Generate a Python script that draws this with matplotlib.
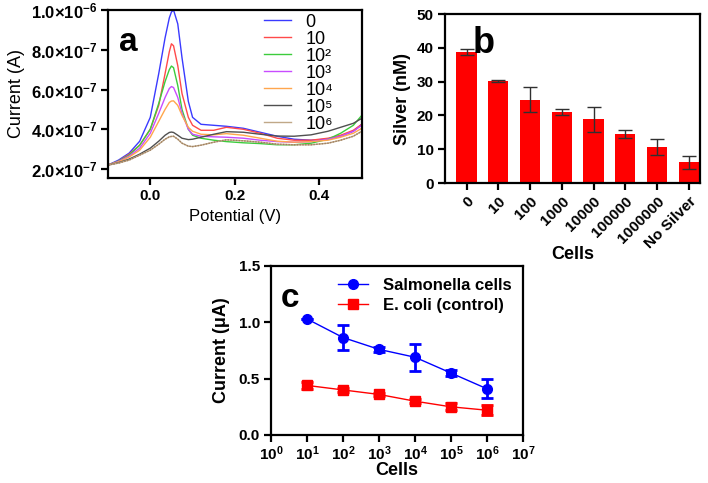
import numpy as np
import matplotlib
matplotlib.use("Agg")
import matplotlib.pyplot as plt
from matplotlib.ticker import LogLocator, NullFormatter
from matplotlib.lines import Line2D

plt.rcParams['font.family'] = ['Liberation Sans', 'DejaVu Sans']
plt.rcParams['mathtext.fontset'] = 'custom'
plt.rcParams['mathtext.rm'] = 'Liberation Sans'
plt.rcParams['mathtext.bf'] = 'Liberation Sans:bold'
plt.rcParams['mathtext.it'] = 'Liberation Sans:italic'

# ---- panel a: voltammograms (current in units of 1e-7 A)
potential = [-0.10, -0.075, -0.05, -0.025, 0.0, 0.02, 0.035, 0.045, 0.05, 0.055, 0.065, 0.075,
             0.09, 0.10, 0.12, 0.15, 0.18, 0.22, 0.26, 0.30, 0.34, 0.38, 0.42, 0.45, 0.48, 0.50]
cur_0 = [2.2, 2.45, 2.8, 3.4, 4.6, 6.8, 8.6, 9.6, 9.9, 10.0, 9.3, 7.6, 5.4, 4.6, 4.25, 4.2,
         4.15, 4.05, 3.85, 3.65, 3.5, 3.45, 3.5, 3.65, 3.9, 4.25]
cur_1 = [2.2, 2.4, 2.75, 3.2, 4.0, 5.2, 6.8, 7.9, 8.3, 8.2, 7.2, 5.8, 4.6, 4.2, 3.95, 3.95,
         4.1, 4.0, 3.8, 3.55, 3.45, 3.45, 3.55, 3.7, 3.95, 4.25]
cur_2 = [2.2, 2.4, 2.7, 3.2, 4.0, 5.3, 6.4, 7.0, 7.18, 7.1, 6.2, 5.0, 4.0, 3.7, 3.55, 3.45,
         3.38, 3.32, 3.28, 3.22, 3.22, 3.3, 3.5, 3.8, 4.2, 4.7]
cur_3 = [2.2, 2.38, 2.65, 3.05, 3.8, 4.8, 5.6, 6.05, 6.15, 6.1, 5.6, 4.8, 4.0, 3.75, 3.65, 3.62,
         3.6, 3.55, 3.45, 3.38, 3.35, 3.38, 3.5, 3.65, 3.9, 4.2]
cur_4 = [2.2, 2.36, 2.6, 2.95, 3.6, 4.4, 5.0, 5.35, 5.42, 5.43, 5.2, 4.7, 4.1, 3.9, 3.75, 3.72,
         3.78, 3.7, 3.55, 3.4, 3.35, 3.38, 3.45, 3.6, 3.8, 4.05]
cur_5 = [2.2, 2.32, 2.5, 2.75, 3.05, 3.4, 3.7, 3.84, 3.86, 3.84, 3.7, 3.55, 3.48, 3.5, 3.6, 3.75,
         3.88, 3.85, 3.75, 3.66, 3.65, 3.72, 3.9, 4.1, 4.3, 4.55]
cur_6 = [2.2, 2.3, 2.45, 2.7, 2.95, 3.25, 3.5, 3.62, 3.64, 3.65, 3.5, 3.3, 3.15, 3.13, 3.2, 3.35,
         3.47, 3.42, 3.35, 3.25, 3.22, 3.22, 3.3, 3.45, 3.65, 3.9]
curve_labels = ['0', '10', '10²', '10³', '10⁴', '10⁵', '10⁶']
curve_colors = ['#3a3aff', '#ff4a4a', '#3ccc3c', '#c84cff', '#ffa64d', '#505050', '#c0a888']
a_yticks = [2e-7, 4e-7, 6e-7, 8e-7, 1e-6]
a_yticklabels = [r'$\mathbf{2.0{\times}10^{-7}}$', r'$\mathbf{4.0{\times}10^{-7}}$',
                 r'$\mathbf{6.0{\times}10^{-7}}$', r'$\mathbf{8.0{\times}10^{-7}}$',
                 r'$\mathbf{1.0{\times}10^{-6}}$']

# ---- panel b: silver
cell_labels = ['0', '10', '100', '1000', '10000', '100000', '1000000', 'No Silver']
silver = [38.7, 30.3, 24.6, 21.1, 18.8, 14.5, 10.6, 6.1]
silver_err = [0.9, 0.3, 3.7, 0.9, 3.8, 1.2, 2.4, 2.0]

# ---- panel c: current vs cells
cells = [1e1, 1e2, 1e3, 1e4, 1e5, 1e6]
salmonella = [1.03, 0.865, 0.76, 0.69, 0.55, 0.41]
salmonella_err = [0.0, 0.11, 0.02, 0.12, 0.03, 0.085]
ecoli = [0.44, 0.40, 0.36, 0.30, 0.25, 0.22]
ecoli_err = [0.03, 0.015, 0.015, 0.015, 0.03, 0.045]


def style_axes(ax, size=11):
    for s in ax.spines.values():
        s.set_linewidth(1.6)
    ax.tick_params(width=1.6, length=5, labelsize=size, pad=3)
    for lab in ax.get_xticklabels() + ax.get_yticklabels():
        lab.set_fontweight('bold')


fig = plt.figure(figsize=(7.08, 4.83), dpi=100)

# panel a
ax1 = fig.add_axes([0.1525, 0.6315, 0.3585, 0.3478])
curves = [cur_0, cur_1, cur_2, cur_3, cur_4, cur_5, cur_6]
for i, (c, lab, col) in enumerate(zip(curves, curve_labels, curve_colors)):
    y = np.array(c) * 1e-7
    ax1.plot(potential, y, color=col, lw=1.0, label=lab)
    if i == 6:
        ax1.plot(potential, y, color='#a08060', lw=1.0, ls=(0, (1, 1)))
ax1.set_xlim(-0.1, 0.5)
ax1.set_ylim(1.55e-7, 1.0e-6)
ax1.set_xticks([0.0, 0.2, 0.4])
ax1.set_xticklabels(['0.0', '0.2', '0.4'])
ax1.set_yticks(a_yticks)
ax1.set_yticklabels(a_yticklabels)
style_axes(ax1, 12)
ax1.tick_params(axis='x', labelsize=11)
ax1.set_xlabel('Potential (V)', fontsize=12, labelpad=4)
ax1.set_ylabel('Current (A)', fontsize=13, labelpad=4)
ax1.text(0.045, 0.9, 'a', transform=ax1.transAxes, fontsize=24, fontweight='bold', va='top')
ax1.legend(loc='upper left', bbox_to_anchor=(0.6, 1.0), frameon=False, fontsize=13,
           handlelength=1.5, handletextpad=0.8, labelspacing=0.0, borderaxespad=0.2,
           borderpad=0)

# panel b
ax2 = fig.add_axes([0.6285, 0.621, 0.360, 0.350])
xb = np.arange(len(cell_labels))
ax2.bar(xb, silver, width=0.64, color='#ff0000', yerr=silver_err,
        error_kw=dict(ecolor='#303030', elinewidth=1.0, capsize=5, capthick=1.0))
ax2.set_xlim(-0.68, 7.35)
ax2.set_ylim(0, 50)
ax2.set_yticks([0, 10, 20, 30, 40, 50])
ax2.set_xticks(xb)
ax2.set_xticklabels(cell_labels, rotation=45, ha='right', rotation_mode='anchor')
style_axes(ax2)
ax2.set_xlabel('Cells', fontsize=13, fontweight='bold')
ax2.xaxis.set_label_coords(0.5, -0.37)
ax2.set_ylabel('Silver (nM)', fontsize=13, fontweight='bold', labelpad=4)
ax2.text(0.11, 0.93, 'b', transform=ax2.transAxes, fontsize=26, fontweight='bold', va='top')

# panel c
ax3 = fig.add_axes([0.3828, 0.0994, 0.3559, 0.3499])
ax3.errorbar(cells, salmonella, yerr=salmonella_err, color='#0000ff', lw=1.0, marker='o',
             ms=7, elinewidth=2, capsize=4, capthick=2)
ax3.errorbar(cells, ecoli, yerr=ecoli_err, color='#ff0000', lw=1.0, marker='s',
             ms=7, elinewidth=2, capsize=4, capthick=2)
ax3.set_xscale('log')
ax3.set_xlim(1, 1e7)
ax3.set_ylim(0, 1.5)
ax3.set_yticks([0.0, 0.5, 1.0, 1.5])
ax3.set_xticks([10.0 ** k for k in range(8)])
ax3.set_xticklabels([r'$\mathbf{10^{%d}}$' % k for k in range(8)])
ax3.xaxis.set_minor_locator(LogLocator(base=10, subs=np.arange(2, 10)))
ax3.xaxis.set_minor_formatter(NullFormatter())
style_axes(ax3)
ax3.tick_params(axis='x', pad=2)
ax3.tick_params(which='minor', length=3, width=1.2)
ax3.set_xlabel('Cells', fontsize=13, fontweight='bold', labelpad=-1)
ax3.set_ylabel('Current (μA)', fontsize=13, fontweight='bold', labelpad=6)
ax3.text(0.04, 0.9, 'c', transform=ax3.transAxes, fontsize=24, fontweight='bold', va='top')
handles = [Line2D([], [], color='#0000ff', lw=1.0, marker='o', ms=7),
           Line2D([], [], color='#ff0000', lw=1.0, marker='s', ms=7)]
ax3.legend(handles, ['Salmonella cells', 'E. coli (control)'], loc='upper right',
           frameon=False, prop=dict(size=12, weight='bold'), handlelength=1.8,
           handletextpad=0.9, borderaxespad=0.3, labelspacing=0.3)

fig.savefig('out.png', dpi=100)
